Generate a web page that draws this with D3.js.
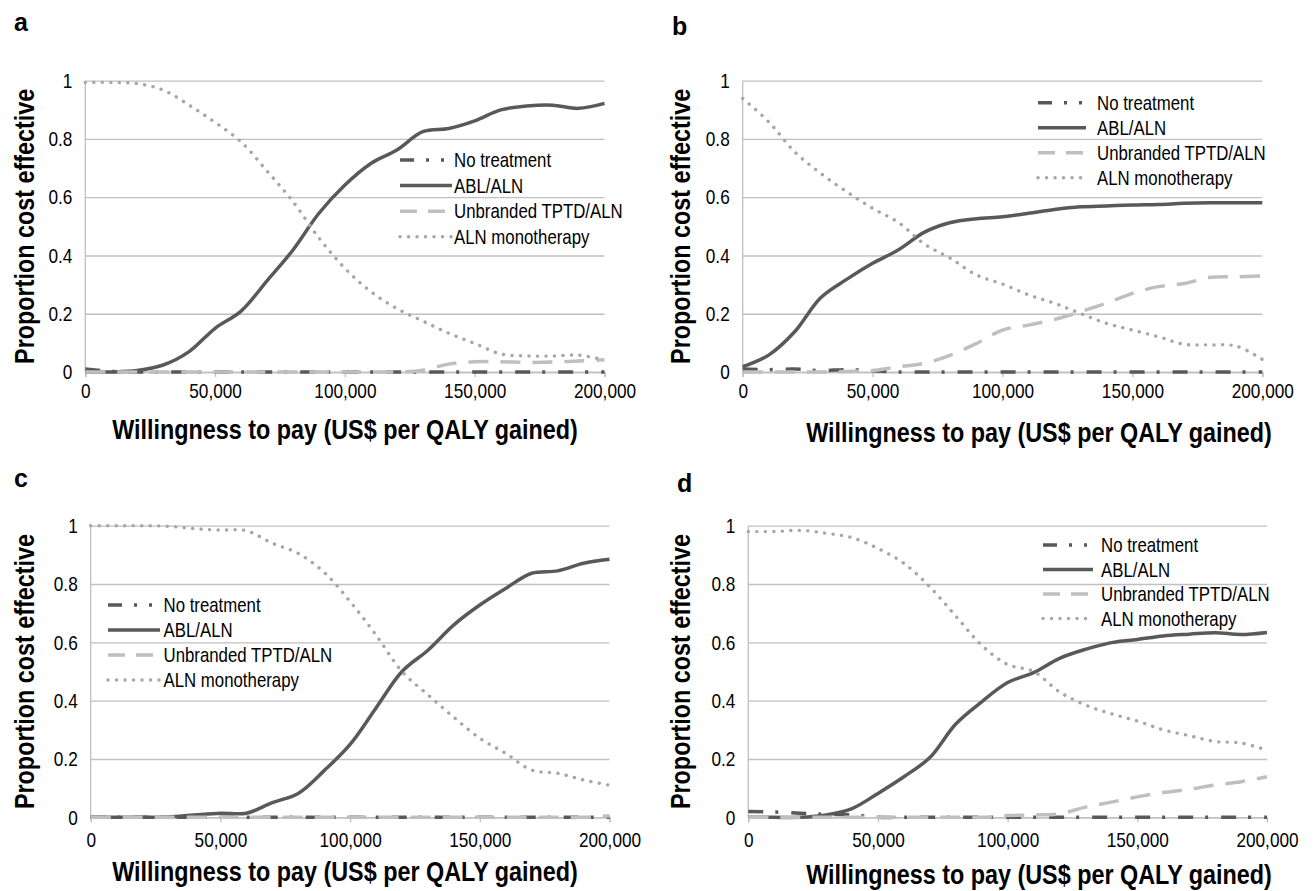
<!DOCTYPE html>
<html>
<head>
<meta charset="utf-8">
<script src="https://cdn.jsdelivr.net/npm/d3@7"></script>
<style>
  body { margin: 0; background: #fff; }
  svg { display: block; }
  text { font-family: "Liberation Sans", Arial, sans-serif; }
</style>
</head>
<body>
<svg id="chart" width="1316" height="891"></svg>
<script>
// Willingness to pay values (US$ per QALY gained)
const wtp = [0, 10000, 20000, 30000, 40000, 50000, 60000, 70000, 80000, 90000, 100000,
             110000, 120000, 130000, 140000, 150000, 160000, 170000, 180000, 190000, 200000];
const seriesNames = ["No treatment", "ABL/ALN", "Unbranded TPTD/ALN", "ALN monotherapy"];
const xTicks = [0, 50000, 100000, 150000, 200000];
const yTicks = [0, 0.2, 0.4, 0.6, 0.8, 1];

// panel a
const aNoTreatment = [0.01, 0.002, 0, 0, 0, 0, 0, 0, 0, 0, 0, 0, 0, 0, 0, 0, 0, 0, 0, 0, 0];
const aAbl = [0, 0, 0.005, 0.024, 0.07, 0.15, 0.209, 0.313, 0.419, 0.545, 0.642, 0.716, 0.762, 0.825, 0.836, 0.862, 0.9, 0.913, 0.916, 0.905, 0.922];
const aUnbranded = [0, 0, 0, 0, 0, 0, 0, 0, 0, 0, 0, 0, 0, 0.006, 0.027, 0.035, 0.035, 0.033, 0.034, 0.038, 0.042];
const aAln = [0.994, 0.994, 0.99, 0.968, 0.916, 0.857, 0.79, 0.69, 0.585, 0.46, 0.356, 0.276, 0.218, 0.175, 0.133, 0.098, 0.062, 0.055, 0.055, 0.058, 0.041];

// panel b
const bNoTreatment = [0.01, 0.008, 0.01, 0.005, 0.008, 0.004, 0, 0, 0, 0, 0, 0, 0, 0, 0, 0, 0, 0, 0, 0, 0];
const bAbl = [0.018, 0.058, 0.138, 0.255, 0.318, 0.373, 0.42, 0.48, 0.513, 0.526, 0.533, 0.545, 0.558, 0.567, 0.57, 0.573, 0.575, 0.579, 0.581, 0.581, 0.581];
const bUnbranded = [0, 0, 0, 0, 0.002, 0.005, 0.018, 0.03, 0.058, 0.098, 0.144, 0.161, 0.18, 0.207, 0.236, 0.27, 0.293, 0.304, 0.325, 0.327, 0.33];
const bAln = [0.939, 0.859, 0.756, 0.682, 0.619, 0.562, 0.513, 0.439, 0.39, 0.333, 0.302, 0.265, 0.236, 0.201, 0.167, 0.144, 0.121, 0.095, 0.093, 0.089, 0.043];

// panel c
const cNoTreatment = [0, 0, 0, 0, 0, 0, 0, 0, 0, 0, 0, 0, 0, 0, 0, 0, 0, 0, 0, 0, 0];
const cAbl = [0, 0, 0, 0.001, 0.008, 0.014, 0.014, 0.05, 0.082, 0.16, 0.25, 0.375, 0.5, 0.573, 0.66, 0.728, 0.785, 0.837, 0.845, 0.871, 0.885];
const cUnbranded = [0, 0, 0, 0, 0, 0, 0, 0, 0, 0, 0, 0, 0, 0, 0, 0, 0, 0, 0, 0, 0.005];
const cAln = [1, 1, 1, 0.998, 0.99, 0.985, 0.983, 0.94, 0.905, 0.84, 0.74, 0.625, 0.5, 0.42, 0.343, 0.271, 0.219, 0.162, 0.151, 0.128, 0.11];

// panel d
const dNoTreatment = [0.02, 0.018, 0.014, 0.01, 0.008, 0, 0, 0, 0, 0, 0, 0, 0, 0, 0, 0, 0, 0, 0, 0, 0];
const dAbl = [0, 0, 0, 0.008, 0.03, 0.082, 0.139, 0.205, 0.32, 0.396, 0.462, 0.496, 0.545, 0.576, 0.599, 0.61, 0.622, 0.628, 0.633, 0.627, 0.634];
const dUnbranded = [0, 0, 0, 0, 0, 0, 0, 0, 0, 0, 0.006, 0.008, 0.012, 0.035, 0.052, 0.07, 0.085, 0.096, 0.111, 0.122, 0.139];
const dAln = [0.98, 0.98, 0.984, 0.974, 0.959, 0.922, 0.871, 0.79, 0.69, 0.59, 0.524, 0.5, 0.43, 0.385, 0.355, 0.33, 0.3, 0.28, 0.26, 0.255, 0.23];

// line styles, same order as seriesNames
const styles = [
  { stroke: "#595959", width: 3.5, dash: "15,12,3,13", legendDash: "14,12,3,12,3,60", cap: "butt" },
  { stroke: "#595959", width: 3.5, dash: null, cap: "butt" },
  { stroke: "#bfbfbf", width: 3.5, dash: "20,12", legendDash: "17,11", cap: "butt" },
  { stroke: "#a6a6a6", width: 3.4, dash: "0.1,8.4", cap: "round" }
];

// the original uses a narrow face; squeeze Liberation Sans to match
const NARROW = 0.82;

const panels = [
  { letter: "a", letterPos: [14, 31], box: { left: 85.3, right: 604.5, top: 80.7, bottom: 372 },
    yTitleX: 33.5, xTitle: [345, 439], tickPad: 6.5,
    legend: { x0: 400, x1: 452, tx: 454, y: 160, dy: 25.6 },
    series: [aNoTreatment, aAbl, aUnbranded, aAln] },
  { letter: "b", letterPos: [672, 35], box: { left: 742.7, right: 1262.3, top: 80.7, bottom: 372 },
    yTitleX: 689.5, xTitle: [1039, 442], tickPad: 6.5,
    legend: { x0: 1038, x1: 1086, tx: 1097, y: 102.7, dy: 25 },
    series: [bNoTreatment, bAbl, bUnbranded, bAln] },
  { letter: "c", letterPos: [14, 487], box: { left: 90.7, right: 609.5, top: 525.7, bottom: 817.3 },
    yTitleX: 33.5, xTitle: [345, 881], tickPad: 10,
    legend: { x0: 108, x1: 160, tx: 163.5, y: 605, dy: 25 },
    series: [cNoTreatment, cAbl, cUnbranded, cAln] },
  { letter: "d", letterPos: [677, 492], box: { left: 748.3, right: 1267, top: 525.7, bottom: 817.3 },
    yTitleX: 689.5, xTitle: [1039, 883.5], tickPad: 10,
    legend: { x0: 1043, x1: 1093, tx: 1101, y: 545, dy: 24.5 },
    series: [dNoTreatment, dAbl, dUnbranded, dAln] }
];

const svg = d3.select("#chart");

function drawPanel(p) {
  const g = svg.append("g");
  const b = p.box;

  const x = d3.scaleLinear().domain([0, 200000]).range([b.left, b.right]);
  const y = d3.scaleLinear().domain([0, 1]).range([b.bottom, b.top]);

  // horizontal gridlines + y tick labels
  g.append("g")
    .attr("transform", `translate(${b.left},0)`)
    .call(d3.axisLeft(y).tickValues(yTicks).tickSize(-(b.right - b.left)).tickPadding(13 / NARROW).tickFormat(d => String(d)))
    .call(a => a.select(".domain").remove())
    .call(a => a.selectAll("line").attr("stroke", "#c0c0c0").attr("stroke-width", 1.3))
    .call(a => a.selectAll("text").attr("font-size", 21).attr("fill", "#000").attr("transform", `scale(${NARROW},1)`));

  // y axis line
  g.append("line")
    .attr("x1", b.left).attr("x2", b.left)
    .attr("y1", b.top).attr("y2", b.bottom)
    .attr("stroke", "#bfbfbf").attr("stroke-width", 1.3);

  // x axis
  g.append("g")
    .attr("transform", `translate(0,${b.bottom})`)
    .call(d3.axisBottom(x).tickValues(xTicks).tickSize(5).tickSizeOuter(5).tickPadding(p.tickPad).tickFormat(d3.format(",")))
    .call(a => a.select(".domain").attr("stroke", "#bfbfbf").attr("stroke-width", 1.3))
    .call(a => a.selectAll("line").attr("stroke", "#bfbfbf").attr("stroke-width", 1.3))
    .call(a => a.selectAll("text").attr("font-size", 21).attr("fill", "#000").attr("transform", `scale(${NARROW},1)`));

  // curves
  const line = d3.line()
    .x((d, i) => x(wtp[i]))
    .y(d => y(d))
    .curve(d3.curveCatmullRom.alpha(0.5));

  p.series.forEach((vals, k) => {
    const s = styles[k];
    g.append("path")
      .datum(vals)
      .attr("d", line)
      .attr("fill", "none")
      .attr("stroke", s.stroke)
      .attr("stroke-width", s.width)
      .attr("stroke-linecap", s.cap)
      .attr("stroke-linejoin", "round")
      .attr("stroke-dasharray", s.dash);
  });

  // legend
  seriesNames.forEach((name, k) => {
    const s = styles[k];
    const yy = p.legend.y + k * p.legend.dy;
    g.append("line")
      .attr("x1", p.legend.x0).attr("x2", p.legend.x1)
      .attr("y1", yy).attr("y2", yy)
      .attr("stroke", s.stroke)
      .attr("stroke-width", s.width)
      .attr("stroke-linecap", s.cap)
      .attr("stroke-dasharray", s.legendDash || s.dash);
    g.append("text")
      .attr("transform", `translate(${p.legend.tx},${yy}) scale(${NARROW},1)`)
      .attr("dy", "0.35em")
      .attr("font-size", 20.5)
      .attr("fill", "#000")
      .text(name);
  });

  // axis titles
  g.append("text")
    .attr("transform", `translate(${p.yTitleX},${(b.top + b.bottom) / 2}) rotate(-90) scale(${NARROW},1)`)
    .attr("text-anchor", "middle")
    .attr("font-size", 28.5)
    .attr("font-weight", "bold")
    .text("Proportion cost effective");

  g.append("text")
    .attr("transform", `translate(${p.xTitle[0]},${p.xTitle[1]}) scale(${NARROW},1)`)
    .attr("text-anchor", "middle")
    .attr("font-size", 28.5)
    .attr("font-weight", "bold")
    .text("Willingness to pay (US$ per QALY gained)");

  // panel letter
  g.append("text")
    .attr("x", p.letterPos[0]).attr("y", p.letterPos[1])
    .attr("font-size", 25)
    .attr("font-weight", "bold")
    .text(p.letter);
}

panels.forEach(drawPanel);
</script>
</body>
</html>
